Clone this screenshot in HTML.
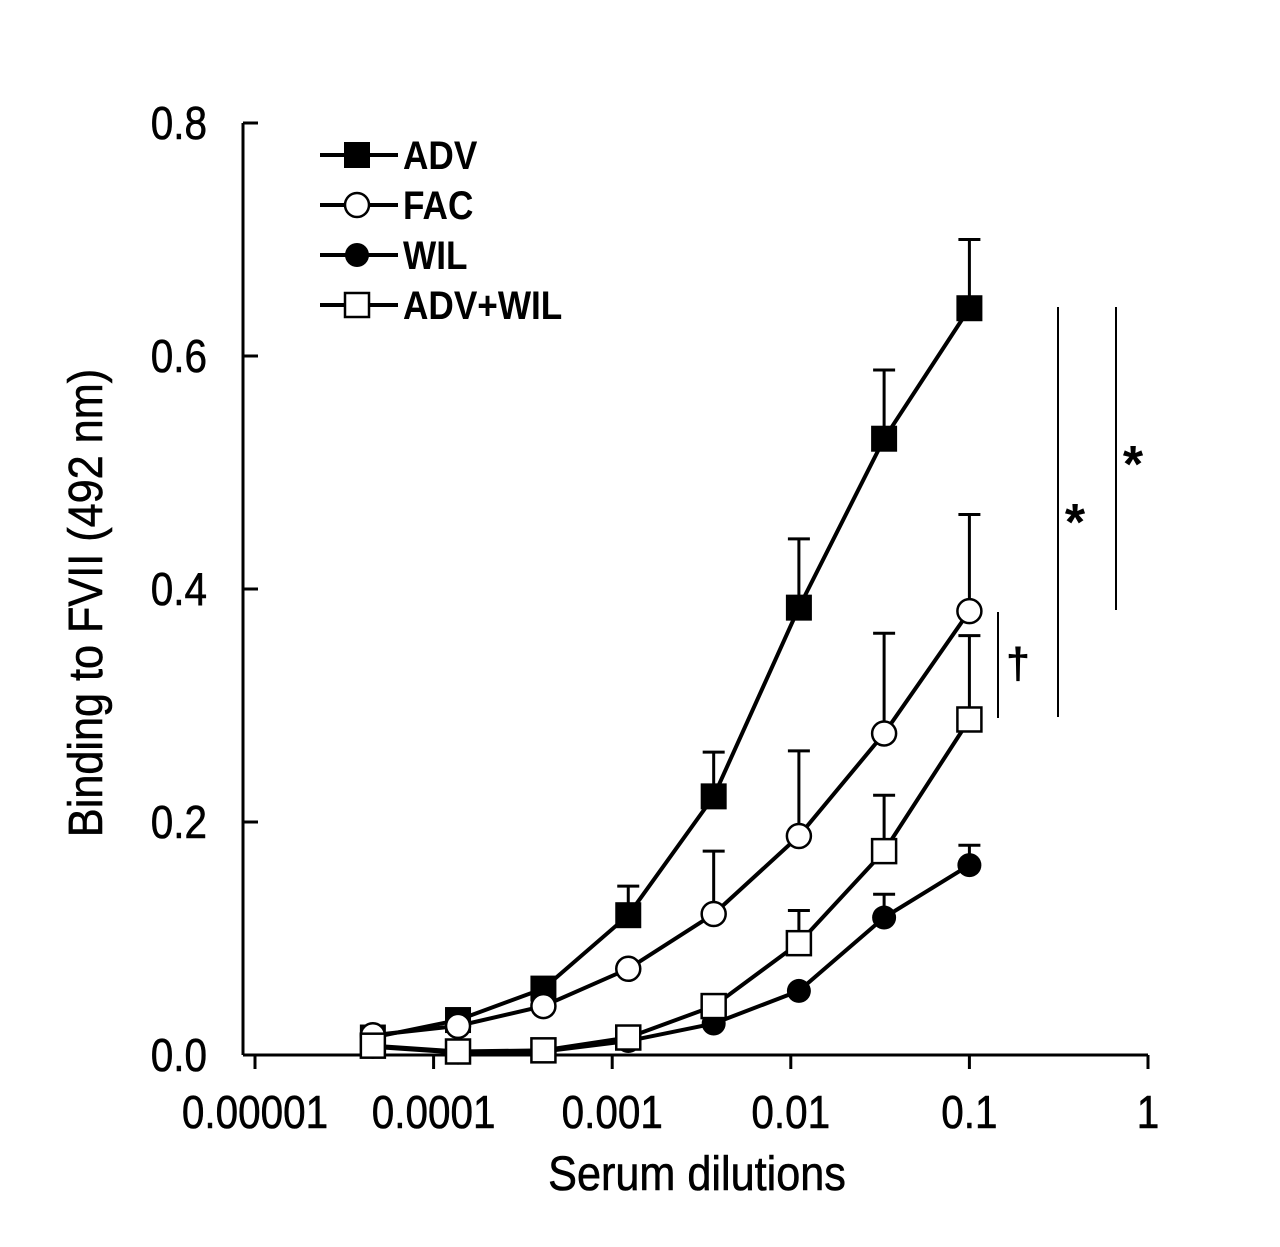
<!DOCTYPE html>
<html><head><meta charset="utf-8"><style>
html,body{margin:0;padding:0;background:#fff;}
svg{display:block;}
text{font-family:"Liberation Sans",sans-serif;fill:#000;}
</style></head><body>
<svg id="chart" width="1280" height="1247" viewBox="0 0 1280 1247" xmlns="http://www.w3.org/2000/svg">
<g id="axes"></g><g id="series"></g><g id="legend"></g><g id="annot"></g>
</svg>
<script>
const dilutions = [0.0000457, 0.000137, 0.000412, 0.00123, 0.0037, 0.0111, 0.0333, 0.1];
const advValues = [0.015, 0.03, 0.057, 0.12, 0.222, 0.384, 0.529, 0.641];
const advErrors = [0, 0, 0, 0.025, 0.038, 0.059, 0.059, 0.059];
const facValues = [0.017, 0.025, 0.042, 0.074, 0.121, 0.188, 0.276, 0.381];
const facErrors = [0, 0, 0, 0, 0.054, 0.073, 0.086, 0.083];
const wilValues = [0.007, 0.002, 0.003, 0.012, 0.027, 0.055, 0.118, 0.163];
const wilErrors = [0, 0, 0, 0, 0, 0, 0.02, 0.017];
const advWilValues = [0.008, 0.003, 0.004, 0.015, 0.042, 0.096, 0.175, 0.288];
const advWilErrors = [0, 0, 0, 0, 0, 0.028, 0.048, 0.072];
const xTicks = [0.00001, 0.0001, 0.001, 0.01, 0.1, 1];
const xTickLabels = ["0.00001", "0.0001", "0.001", "0.01", "0.1", "1"];
const yTicks = [0, 0.2, 0.4, 0.6, 0.8];
const yTickLabels = ["0.0", "0.2", "0.4", "0.6", "0.8"];

const NS = "http://www.w3.org/2000/svg";
const X0 = 255, DEC = 178.6, Y0 = 1055, YS = 1165;
function xs(v){ return X0 + (Math.log10(v) + 5) * DEC; }
function ys(v){ return Y0 - v * YS; }
function mk(tag, attrs, parent, txt){
  const e = document.createElementNS(NS, tag);
  for (const k in attrs) e.setAttribute(k, attrs[k]);
  if (txt !== undefined) e.textContent = txt;
  parent.appendChild(e); return e;
}
const axes = document.getElementById('axes');
let e;
e = mk('line', {x1:243, y1:ys(0.8), x2:243, y2:Y0, stroke:'#000','stroke-width':3}, axes);


e = mk('line', {x1:243, y1:Y0, x2:xs(1), y2:Y0, stroke:'#000','stroke-width':3}, axes);


yTicks.forEach((t,i)=>{
  mk('line', {x1:243, y1:ys(t), x2:258, y2:ys(t), stroke:'#000','stroke-width':3}, axes);
  const tx = mk('text', {x:0, y:0, 'text-anchor':'end', 'font-size':46, stroke:'#000','stroke-width':0.6, transform:`translate(207,${ys(t)+16}) scale(0.88,1)`}, axes, yTickLabels[i]);
  
  
});
xTicks.forEach((t,i)=>{
  mk('line', {x1:xs(t), y1:Y0, x2:xs(t), y2:Y0+14, stroke:'#000','stroke-width':3}, axes);
  const tx = mk('text', {x:0, y:0, 'text-anchor':'middle', 'font-size':46, stroke:'#000','stroke-width':0.6, transform:`translate(${xs(t)},${Y0+73}) scale(0.88,1)`}, axes, xTickLabels[i]);
  
  
});
e = mk('text', {x:0, y:0, 'text-anchor':'middle', 'font-size':48, stroke:'#000','stroke-width':0.6, transform:'translate(697,1190) scale(0.9,1)'}, axes, 'Serum dilutions');


e = mk('text', {x:0, y:0, 'text-anchor':'middle', 'font-size':48, stroke:'#000','stroke-width':0.6, transform:'translate(102,603) rotate(-90) scale(0.9,1)'}, axes, 'Binding to FVII (492 nm)');



const seriesG = document.getElementById('series');
function marker(g, shape, cx, cy){
  if (shape==='sq-fill') return mk('rect',{x:cx-13,y:cy-13,width:26,height:26,fill:'#000'},g);
  if (shape==='sq-open') return mk('rect',{x:cx-12,y:cy-12,width:24,height:24,fill:'#fff',stroke:'#000','stroke-width':2.5},g);
  if (shape==='ci-fill') return mk('circle',{cx,cy,r:12,fill:'#000'},g);
  return mk('circle',{cx,cy,r:12,fill:'#fff',stroke:'#000','stroke-width':2.5},g);
}
const series = [
  {name:'adv', vals:advValues, errs:advErrors, shape:'sq-fill'},
  {name:'fac', vals:facValues, errs:facErrors, shape:'ci-open'},
  {name:'wil', vals:wilValues, errs:wilErrors, shape:'ci-fill'},
  {name:'adv-wil', vals:advWilValues, errs:advWilErrors, shape:'sq-open'}
];
series.forEach(s=>{
  const g = mk('g', {}, seriesG);
  
  
  s.vals.forEach((v,i)=>{
    if (s.errs[i] > 0){
      const x = xs(dilutions[i]);
      mk('line',{x1:x,y1:ys(v),x2:x,y2:ys(v+s.errs[i]),stroke:'#000','stroke-width':3},g);
      mk('line',{x1:x-11,y1:ys(v+s.errs[i]),x2:x+11,y2:ys(v+s.errs[i]),stroke:'#000','stroke-width':3},g);
    }
  });
  const pts = s.vals.map((v,i)=>xs(dilutions[i])+','+ys(v)).join(' ');
  const pl = mk('polyline',{points:pts,fill:'none',stroke:'#000','stroke-width':4},g);
  
  
  s.vals.forEach((v,i)=>{
    const m = marker(g, s.shape, xs(dilutions[i]), ys(v));
    
    
  });
});

const legend = document.getElementById('legend');
const legLabels = ['ADV','FAC','WIL','ADV+WIL'];
series.forEach((s,i)=>{
  const y = 155 + i*50;
  const g = mk('g', {}, legend);
  
  
  mk('line',{x1:320,y1:y,x2:398,y2:y,stroke:'#000','stroke-width':4},g);
  marker(g, s.shape, 357, y);
  mk('text',{x:0,y:0,'font-size':40,'font-weight':'bold',transform:`translate(403,${y+14}) scale(0.88,1)`},g,legLabels[i]);
});

const ann = document.getElementById('annot');
[[998,612,718,'†',1018,678,44],[1058,307,717,'*',1075,540,52],[1116,307,610,'*',1133,482,52]].forEach(a=>{
  const l = mk('line',{x1:a[0],y1:a[1],x2:a[0],y2:a[2],stroke:'#000','stroke-width':2},ann);
  
  
  const t = mk('text',{x:a[4],y:a[5],'text-anchor':'middle','font-size':a[6],'font-weight':'bold'},ann,a[3]);
  
  
});
</script>
</body></html>
